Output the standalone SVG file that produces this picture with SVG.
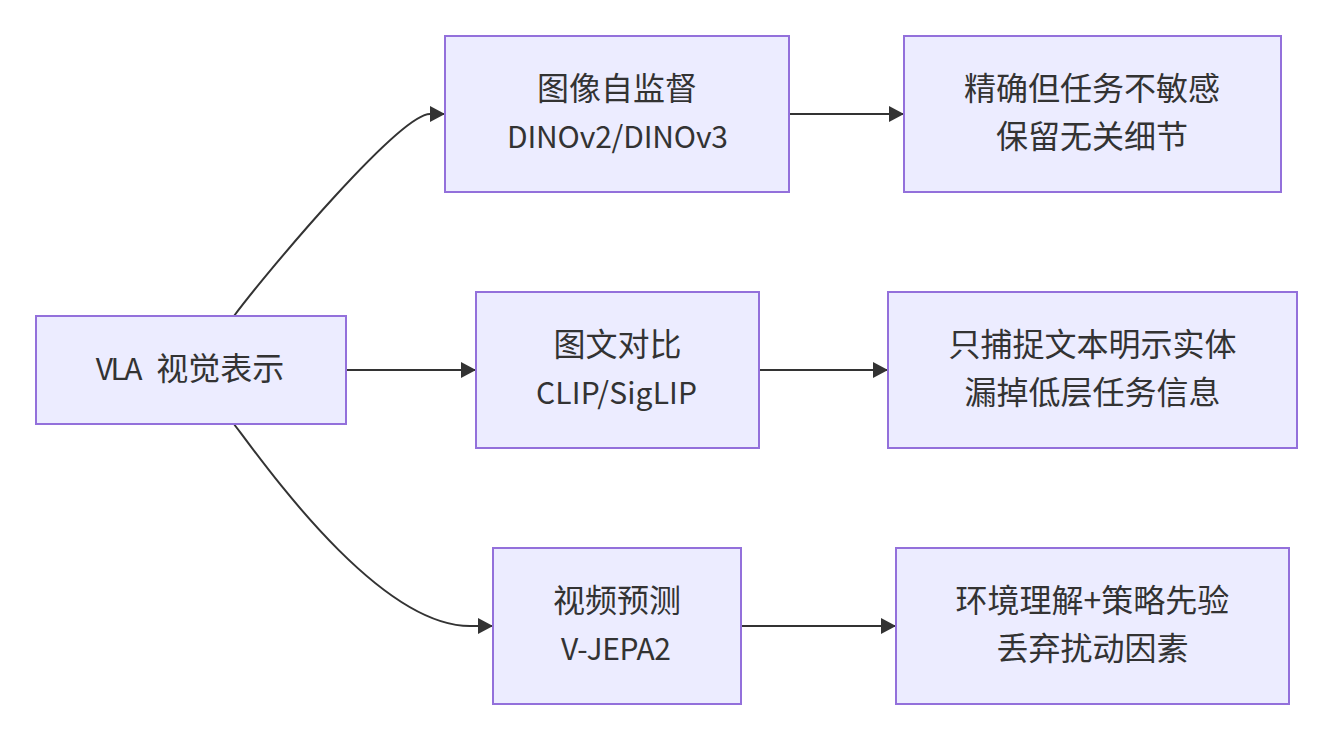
<svg xmlns="http://www.w3.org/2000/svg" width="1334" height="740" viewBox="0 0 1334 740">
<style>
.node rect{fill:#ECECFF;stroke:#9370DB;stroke-width:2}
.node text{font-family:"Noto Sans CJK SC","Noto Sans",sans-serif;font-size:32px;fill:#333;text-anchor:middle}
.node text.lat{font-size:30px}
.edge{fill:none;stroke:#333;stroke-width:2}
</style>
<defs>
<marker id="arrow" viewBox="0 0 15 16" refX="15" refY="8" markerWidth="15" markerHeight="16" markerUnits="userSpaceOnUse" orient="auto">
<path d="M0,0 L15,8 L0,16 z" fill="#333"/>
</marker>
</defs>
<rect width="1334" height="740" fill="#fff"/>
<g id="edges">
<path class="edge" d="M234,316 C270,268 400,114 430,114 L445,114" marker-end="url(#arrow)"/>
<path class="edge" d="M346,370 L476,370" marker-end="url(#arrow)"/>
<path class="edge" d="M234,424 C270,472 380,626 470,626 L493,626" marker-end="url(#arrow)"/>
<path class="edge" d="M789,114 L904,114" marker-end="url(#arrow)"/>
<path class="edge" d="M759,370 L888,370" marker-end="url(#arrow)"/>
<path class="edge" d="M741,626 L896,626" marker-end="url(#arrow)"/>
</g>
<g id="A" class="node"><rect x="36" y="316" width="310" height="108"/><text x="190" y="380"><tspan font-size="30" letter-spacing="-2.5">VLA</tspan><tspan dx="9"> 视觉表示</tspan></text></g>
<g id="B" class="node"><rect x="445" y="36" width="344" height="156"/><text x="617" y="100">图像自监督</text><text class="lat" x="617.5" y="148" textLength="221" lengthAdjust="spacing">DINOv2/DINOv3</text></g>
<g id="C" class="node"><rect x="904" y="36" width="377" height="156"/><text x="1092" y="100">精确但任务不敏感</text><text x="1092" y="148">保留无关细节</text></g>
<g id="D" class="node"><rect x="476" y="292" width="283" height="156"/><text x="617.5" y="356">图文对比</text><text class="lat" x="616.5" y="404" textLength="161" lengthAdjust="spacing">CLIP/SigLIP</text></g>
<g id="E" class="node"><rect x="888" y="292" width="409" height="156"/><text x="1092.5" y="356">只捕捉文本明示实体</text><text x="1092.5" y="404">漏掉低层任务信息</text></g>
<g id="F" class="node"><rect x="493" y="548" width="248" height="156"/><text x="617" y="612">视频预测</text><text class="lat" x="616" y="660" textLength="110" lengthAdjust="spacing">V-JEPA2</text></g>
<g id="G" class="node"><rect x="896" y="548" width="393" height="156"/><text x="1092.5" y="612">环境理解+策略先验</text><text x="1092.5" y="660">丢弃扰动因素</text></g>
</svg>
